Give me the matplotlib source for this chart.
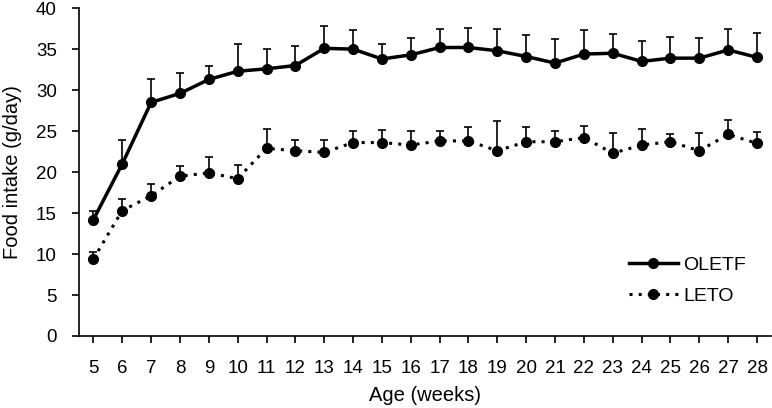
import numpy as np
import matplotlib.pyplot as plt

plt.rcParams['font.family'] = ['Liberation Sans', 'DejaVu Sans']

# Yaş (hafta)
weeks = list(range(5, 29))

# OLETF ortalama ve üst hata
oletf_mean = [14.2, 21.0, 28.5, 29.6, 31.3, 32.3, 32.6, 33.0, 35.1, 35.0, 33.8, 34.3,
              35.2, 35.2, 34.8, 34.1, 33.3, 34.4, 34.5, 33.5, 33.9, 33.9, 34.9, 34.0]
oletf_top = [15.2, 23.9, 31.3, 32.1, 32.9, 35.6, 35.0, 35.4, 37.8, 37.3, 35.6, 36.4,
             37.5, 37.6, 37.5, 36.7, 36.2, 37.3, 36.9, 36.0, 36.5, 36.3, 37.5, 37.0]

# LETO ortalama ve üst hata
leto_mean = [9.4, 15.3, 17.1, 19.5, 19.9, 19.2, 22.9, 22.6, 22.4, 23.6, 23.6, 23.3,
             23.8, 23.8, 22.6, 23.7, 23.7, 24.2, 22.3, 23.3, 23.7, 22.6, 24.6, 23.5]
leto_top = [10.3, 16.7, 18.6, 20.8, 21.9, 20.9, 25.2, 23.9, 23.9, 25.0, 25.1, 25.0,
            25.0, 25.5, 26.2, 25.5, 25.0, 25.6, 24.8, 25.2, 24.7, 24.8, 26.3, 24.9]

oletf_err = np.array(oletf_top) - np.array(oletf_mean)
leto_err = np.array(leto_top) - np.array(leto_mean)

fig = plt.figure(figsize=(7.72, 4.08), dpi=100)
ax = fig.add_axes([0.1023, 0.1765, 0.897, 0.8035])

# hata çubukları (sadece yukarı)
ax.errorbar(weeks, oletf_mean, yerr=[np.zeros(len(weeks)), oletf_err], fmt='none',
            ecolor='black', elinewidth=1.2, capsize=3, capthick=1.2)
ax.errorbar(weeks, leto_mean, yerr=[np.zeros(len(weeks)), leto_err], fmt='none',
            ecolor='black', elinewidth=1.2, capsize=3, capthick=1.2)

ax.plot(weeks, oletf_mean, color='black', lw=2.5, marker='o', ms=7, label='OLETF')
ax.plot(weeks, leto_mean, color='black', lw=2.2, ls=(0, (1, 2)), marker='o', ms=7,
        label='LETO')

ax.set_xlim(4.5, 28.5)
ax.set_ylim(0, 40)
ax.set_xticks(weeks)
ax.set_yticks(range(0, 41, 5))
ax.spines['top'].set_visible(False)
ax.spines['right'].set_visible(False)
ax.spines['left'].set_linewidth(1.2)
ax.spines['bottom'].set_linewidth(1.2)
ax.tick_params(direction='out', length=5, width=1.2, labelsize=13.5)
ax.tick_params(axis='x', pad=12)
ax.tick_params(axis='y', pad=11)

ax.set_xlabel('Age (weeks)', fontsize=14.5, labelpad=7)
ax.set_ylabel('Food intake (g/day)', fontsize=14.5, labelpad=10)

ax.legend(loc='upper left', bbox_to_anchor=(0.783, 0.268), borderaxespad=0,
          frameon=False, fontsize=14, handlelength=2.5, handletextpad=0.3,
          labelspacing=0.72)

fig.savefig('out.png', dpi=100)
